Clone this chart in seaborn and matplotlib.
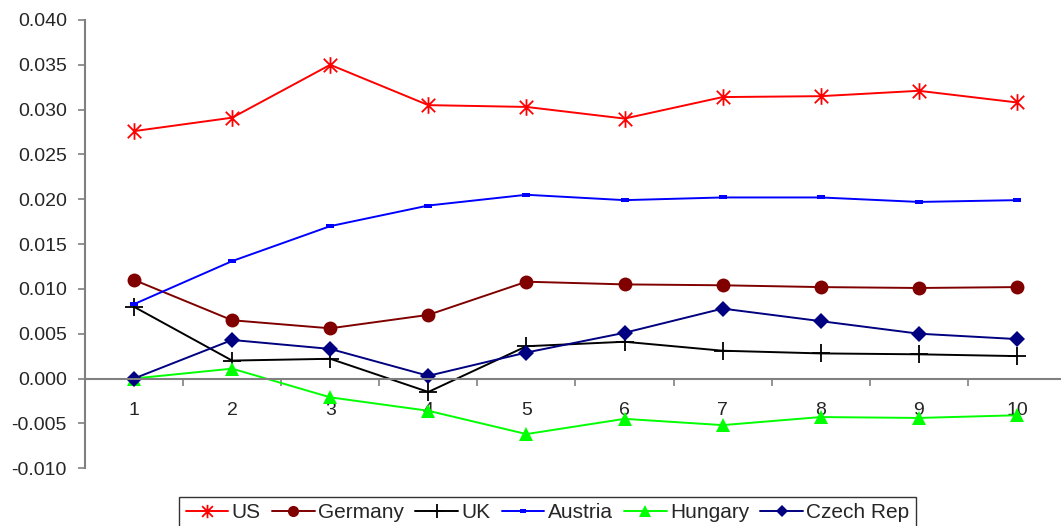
import numpy as np
import pandas as pd
import matplotlib
matplotlib.use("Agg")
import matplotlib.pyplot as plt
from matplotlib.path import Path
from matplotlib.ticker import FixedLocator, FormatStrFormatter
import seaborn as sns

# Series values by period
periods = [1, 2, 3, 4, 5, 6, 7, 8, 9, 10]
us = [0.0276, 0.0291, 0.0350, 0.0305, 0.0303, 0.0290, 0.0314, 0.0315, 0.0321, 0.0308]
germany = [0.0110, 0.0065, 0.0056, 0.0071, 0.0108, 0.0105, 0.0104, 0.0102, 0.0101, 0.0102]
uk = [0.0080, 0.0020, 0.0022, -0.0015, 0.0036, 0.0041, 0.0031, 0.0028, 0.0027, 0.0025]
austria = [0.0083, 0.0131, 0.0170, 0.0193, 0.0205, 0.0199, 0.0202, 0.0202, 0.0197, 0.0199]
hungary = [0.0000, 0.0011, -0.0021, -0.0036, -0.0062, -0.0045, -0.0052, -0.0043, -0.0044, -0.0041]
czech = [0.0000, 0.0043, 0.0033, 0.0003, 0.0029, 0.0051, 0.0078, 0.0064, 0.0050, 0.0044]

series_names = ["US", "Germany", "UK", "Austria", "Hungary", "Czech Rep"]
y_ticks = [-0.010, -0.005, 0.000, 0.005, 0.010, 0.015, 0.020, 0.025, 0.030, 0.035, 0.040]

# Asterisk marker: an X crossed by a vertical bar
d = 0.5
ast_verts = [(-d, -d), (d, d), (-d, d), (d, -d), (0, -0.62), (0, 0.62)]
ast_codes = [Path.MOVETO, Path.LINETO] * 3
asterisk = Path(ast_verts, ast_codes)

# Flat rectangle marker
rect = Path([(-1, -0.55), (1, -0.55), (1, 0.55), (-1, 0.55), (-1, -0.55)],
            [Path.MOVETO, Path.LINETO, Path.LINETO, Path.LINETO, Path.CLOSEPOLY])

styles = {
    "US": dict(color="#FF0000", marker=asterisk, markersize=12, markeredgewidth=1.3,
               markerfacecolor="none", markeredgecolor="#FF0000"),
    "Germany": dict(color="#800000", marker="o", markersize=10, markeredgewidth=0,
                    markerfacecolor="#800000"),
    "UK": dict(color="#000000", marker="+", markersize=13, markeredgewidth=1.3,
               markeredgecolor="#000000"),
    "Austria": dict(color="#0000FF", marker=rect, markersize=6, markeredgewidth=0,
                    markerfacecolor="#0000FF"),
    "Hungary": dict(color="#00FF00", marker="^", markersize=10, markeredgewidth=0,
                    markerfacecolor="#00FF00"),
    "Czech Rep": dict(color="#000080", marker="D", markersize=8, markeredgewidth=0,
                      markerfacecolor="#000080"),
}

sns.set_style("white")
plt.rcParams["font.family"] = ["Liberation Sans", "DejaVu Sans"]

fig = plt.figure(figsize=(10.61, 5.26), dpi=100)
# Plot area runs slightly past the right edge of the canvas
ax = fig.add_axes([0.0801, 0.110, 0.9246, 0.852])

values = [us, germany, uk, austria, hungary, czech]
for name, vals in zip(series_names, values):
    st = dict(styles[name])
    sns.lineplot(x=periods, y=vals, ax=ax, label=name, linewidth=1.4,
                 legend=False, **st)

ax.set_xlim(0.5, 10.5)
ax.set_ylim(-0.010, 0.040)

# Spines in Excel-like grey; category axis crosses at zero
for s in ["top", "right"]:
    ax.spines[s].set_visible(False)
ax.spines["left"].set_color("#808080")
ax.spines["bottom"].set_color("#808080")
ax.spines["left"].set_linewidth(1.5)
ax.spines["bottom"].set_linewidth(1.5)
ax.spines["bottom"].set_position(("data", 0))

ax.yaxis.set_major_locator(FixedLocator(y_ticks))
ax.yaxis.set_major_formatter(FormatStrFormatter("%.3f"))
ax.tick_params(axis="y", which="major", direction="out", length=5, width=1.2,
               color="#808080", labelsize=14, pad=8, left=True)

ax.set_xticks(periods)
ax.set_xticklabels([str(p) for p in periods])
ax.set_xticks(np.arange(0.5, 11, 1.0), minor=True)
ax.tick_params(axis="x", which="major", length=0, labelsize=14, pad=17)
ax.tick_params(axis="x", which="minor", direction="out", length=5, width=1.2,
               color="#808080", bottom=True)
ax.set_xlabel("")
ax.set_ylabel("")
ax.grid(False)

handles, labels = ax.get_legend_handles_labels()
leg = fig.legend(handles, labels, loc="lower center", bbox_to_anchor=(0.516, -0.004),
                 ncol=6, frameon=True, fancybox=False, edgecolor="#000000",
                 fontsize=15, handlelength=2.05, handletextpad=0.15,
                 columnspacing=0.55, borderpad=0.3, borderaxespad=0.0,
                 markerscale=0.8)
leg.get_frame().set_linewidth(1.0)

fig.savefig("out.png", dpi=100)
